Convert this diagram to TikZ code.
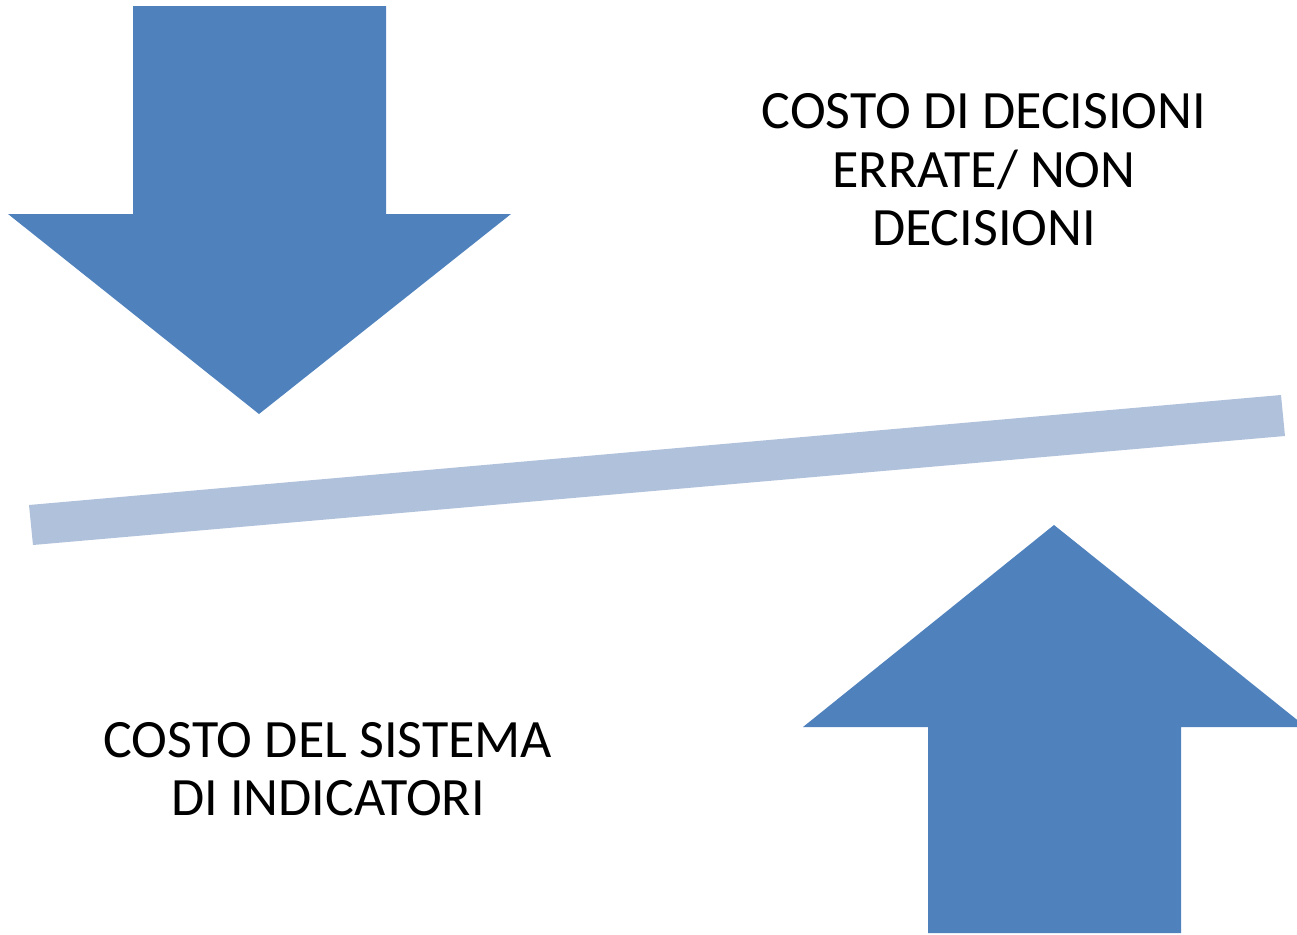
\documentclass[tikz,border=0pt]{standalone}
\usepackage{fontspec}
\setmainfont{Carlito}
\definecolor{arrowblue}{RGB}{79,129,189}
\definecolor{barblue}{RGB}{176,193,220}
\begin{document}
\begin{tikzpicture}[x=0.75pt,y=-0.75pt,
  bigarrow/.style={fill=arrowblue,draw=none},
  beam/.style={fill=barblue,draw=none},
  label/.style={align=center,inner sep=0pt,font=\fontsize{40.5}{43.8}\selectfont}]
\useasboundingbox (0,0) rectangle (1297,935);
\begin{scope}
\clip (0,0) rectangle (1297,935);
\fill[bigarrow] (133,6) -- (386,6) -- (386,214) -- (511,214) -- (259,414) -- (8,214) -- (133,214) -- cycle;
\fill[bigarrow] (928,933) -- (1181,933) -- (1181,727) -- (1306,727) -- (1054,525) -- (803,727) -- (928,727) -- cycle;
\fill[beam] (29,505) -- (1281,395) -- (1285,436) -- (33,545) -- cycle;
\end{scope}
\node[label] (top) at (984,170) {COSTO DI DECISIONI\\ERRATE/ NON\\DECISIONI};
\node[label] (bottom) at (328,769) {COSTO DEL SISTEMA\\DI INDICATORI};
\end{tikzpicture}
\end{document}
